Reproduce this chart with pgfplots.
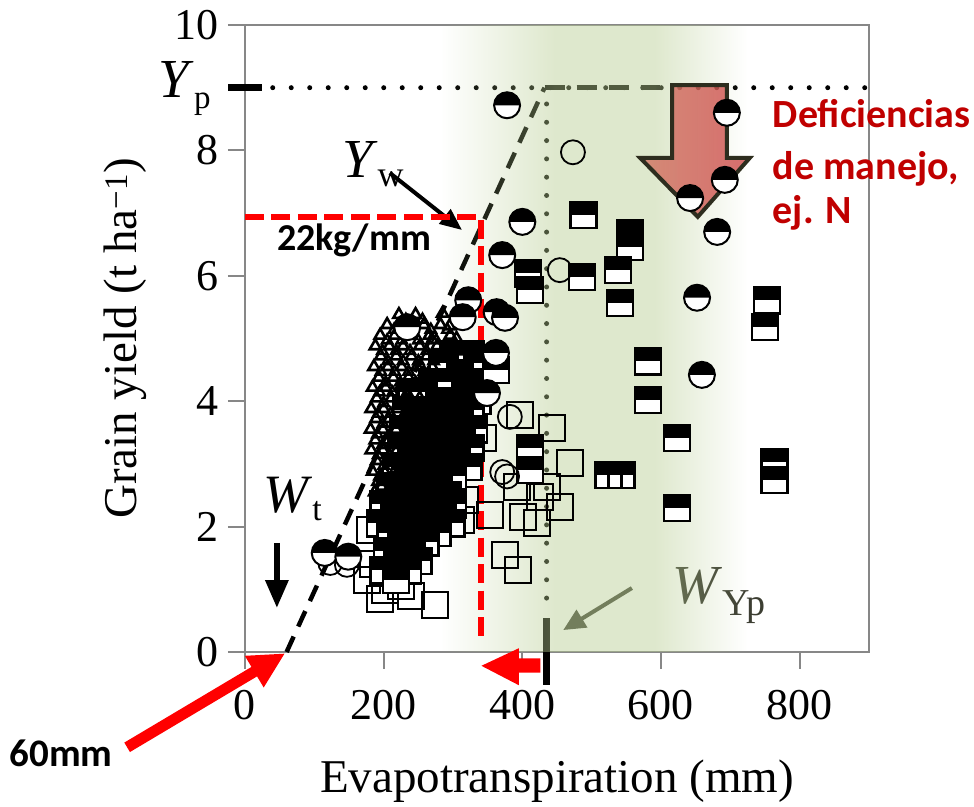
\documentclass[border=0pt]{standalone}
\usepackage{fontspec}
\setmainfont{Liberation Serif}
\newfontfamily\calib{Carlito}
\usepackage{pgfplots}
\pgfplotsset{compat=1.18}
\usetikzlibrary{arrows.meta,fadings}

\definecolor{axgray}{RGB}{135,135,135}
\definecolor{ovgreen}{RGB}{182,204,144}
\definecolor{darkred}{RGB}{192,0,0}
\definecolor{olivetxt}{RGB}{60,62,50}
\definecolor{arrowL}{RGB}{210,118,100}
\definecolor{arrowR}{RGB}{205,72,72}
\definecolor{arrowE}{RGB}{45,45,30}

\tikzfading[name=fin, left color=transparent!100, right color=transparent!0]
\tikzfading[name=fout, left color=transparent!0, right color=transparent!100]

\pgfdeclareplotmark{halfc}{%
  \pgfpathcircle{\pgfpointorigin}{\pgfplotmarksize}%
  \pgfsetfillcolor{white}\pgfusepathqfill
  \pgfpathmoveto{\pgfqpoint{\pgfplotmarksize}{0pt}}%
  \pgfpatharc{0}{180}{\pgfplotmarksize}%
  \pgfpathclose
  \pgfsetfillcolor{black}\pgfusepathqfill
  \pgfpathcircle{\pgfpointorigin}{\pgfplotmarksize}%
  \pgfusepathqstroke
}
\pgfdeclareplotmark{topsq}{%
  \pgfpathrectanglecorners{\pgfqpoint{-\pgfplotmarksize}{-\pgfplotmarksize}}{\pgfqpoint{\pgfplotmarksize}{\pgfplotmarksize}}%
  \pgfsetfillcolor{white}\pgfusepathqfill
  \pgfpathrectanglecorners{\pgfqpoint{-\pgfplotmarksize}{0.02\pgfplotmarksize}}{\pgfqpoint{\pgfplotmarksize}{\pgfplotmarksize}}%
  \pgfsetfillcolor{black}\pgfusepathqfill
  \pgfpathrectanglecorners{\pgfqpoint{-\pgfplotmarksize}{-\pgfplotmarksize}}{\pgfqpoint{\pgfplotmarksize}{\pgfplotmarksize}}%
  \pgfusepathqstroke
}
\pgfdeclareplotmark{tricell}{%
  \pgfpathrectanglecorners{\pgfqpoint{-1.5\pgfplotmarksize}{-\pgfplotmarksize}}{\pgfqpoint{1.5\pgfplotmarksize}{\pgfplotmarksize}}%
  \pgfsetfillcolor{white}\pgfusepathqfill
  \pgfpathrectanglecorners{\pgfqpoint{-1.5\pgfplotmarksize}{0.02\pgfplotmarksize}}{\pgfqpoint{1.5\pgfplotmarksize}{\pgfplotmarksize}}%
  \pgfsetfillcolor{black}\pgfusepathqfill
  \pgfpathrectanglecorners{\pgfqpoint{-1.5\pgfplotmarksize}{-\pgfplotmarksize}}{\pgfqpoint{1.5\pgfplotmarksize}{\pgfplotmarksize}}%
  \pgfpathmoveto{\pgfqpoint{-0.5\pgfplotmarksize}{-\pgfplotmarksize}}\pgfpathlineto{\pgfqpoint{-0.5\pgfplotmarksize}{0pt}}%
  \pgfpathmoveto{\pgfqpoint{0.5\pgfplotmarksize}{-\pgfplotmarksize}}\pgfpathlineto{\pgfqpoint{0.5\pgfplotmarksize}{0pt}}%
  \pgfusepathqstroke
}

\begin{document}
\begin{tikzpicture}[x=1pt,y=1pt]
\path[use as bounding box] (-245,-154) rectangle (729,652);
\begin{axis}[
  at={(0pt,0pt)}, anchor=south west,
  width=624pt, height=627pt, scale only axis,
  xmin=0, xmax=900, ymin=0, ymax=10,
  clip=false,
  axis line style={draw=axgray, line width=2.5pt},
  xtick={0,200,...,800}, ytick={0,2,...,10},
  tick align=outside, xtick pos=bottom, ytick pos=left,
  major tick length=17pt,
  tick style={draw=axgray, line width=2pt},
  tick label style={font=\fontsize{44}{44}\selectfont},
  xticklabel style={yshift=-18pt},
  yticklabel style={xshift=-6pt},
  /pgf/number format/assume math mode=true,
  xlabel={Evapotranspiration (mm)},
  ylabel={Grain yield (t ha\textsuperscript{\char"2212 1})},
  label style={font=\fontsize{47}{47}\selectfont},
  xlabel style={at={(axis description cs:0.5,0)}, anchor=base, yshift=-140pt},
  ylabel style={at={(axis description cs:0,0.5)}, anchor=center, yshift=120pt},
]
% ---- reference lines
\draw[black, line width=5pt, line cap=round, dash pattern=on 0pt off 18.5pt] (axis cs:40,9) -- (axis cs:900,9);
\draw[black, line width=5pt, line cap=round, dash pattern=on 0pt off 18.3pt] (axis cs:435,0.86) -- (axis cs:435,9);
\draw[black, line width=4.5pt, dash pattern=on 17pt off 11pt] (axis cs:60,0) -- (axis cs:432,9);
\draw[black, line width=5pt, dash pattern=on 20pt off 12pt] (axis cs:432,9) -- (axis cs:598,9);
\draw[black, line width=7pt] (axis cs:-24.5,9) -- (axis cs:24.5,9);
\draw[black, line width=7pt] (axis cs:435,0.54) -- (axis cs:435,-0.53);

% ---- open squares
\addplot[only marks, mark=square, mark size=13pt, mark options={draw=black, line width=2pt}] coordinates {
(397,3.78) (443,3.57) (469,3.01) (343,3.41) (392,2.63) (454,2.31) (401,2.15) (421,2.06)
(353,2.19) (375,1.55) (394,1.31) (436,2.63) (425,2.47) (274,0.75) (318,3.17) (318,2.42)
(312,2.10) (176,1.15) (202,0.99) (180,1.95) (195,0.85) (225,1.05) (240,0.9) (185,1.4)
};
% ---- cluster: top-filled squares (top to bottom)
\addplot[only marks, mark=topsq, mark size=13pt, mark options={draw=black, line width=2.5pt}] coordinates {
(300,4.75) (325,4.75)
(285,4.6) (335,4.6)
(310,4.45)
(270,4.3) (295,4.3) (330,4.3)
(240,4.15) (255,4.15) (318,4.15)
(280,4.0) (305,4.0) (335,4.0)
(232,3.85) (262,3.85) (292,3.85) (325,3.85)
(248,3.7) (275,3.7) (310,3.7)
(228,3.55) (262,3.55) (295,3.55) (330,3.55)
(245,3.4) (278,3.4) (312,3.4)
(225,3.25) (258,3.25) (292,3.25) (325,3.25)
(240,3.1) (272,3.1) (305,3.1)
(218,2.95) (252,2.95) (288,2.95) (322,2.95)
(235,2.8) (268,2.8) (300,2.8)
(210,2.65) (245,2.65) (280,2.65)
(225,2.5) (260,2.5) (292,2.5)
(200,2.35) (238,2.35) (272,2.35) (300,2.35)
(215,2.2) (250,2.2) (285,2.2)
(195,2.05) (230,2.05) (265,2.05) (298,2.05)
(210,1.9) (245,1.9) (278,1.9)
(225,1.75) (260,1.75)
(205,1.6) (240,1.6)
(220,1.45) (250,1.45)
(200,1.3) (235,1.3)
(218,1.15)
(362,4.5)
(488,6.97) (555,6.68) (555,6.46) (538,6.09) (408,6.04) (411,5.77) (486,5.98) (541,5.57)
(581,4.63) (581,4.02) (623,3.41) (623,2.30) (411,3.25) (411,2.90)
(753,5.61) (750,5.18) (764,3.03) (764,2.74)
};
\addplot[only marks, mark=tricell, mark size=13pt, mark options={draw=black, line width=2.5pt}] coordinates {(534,2.82)};
% ---- cluster: small open triangles (two overlapping layers)
\addplot[only marks, mark=triangle, mark size=6.5pt, mark options={draw=black, line width=2.6pt}] coordinates {
(222,5.38) (246,5.38)
(205,5.22) (230,5.22) (258,5.22) (282,5.22)
(195,5.05) (216,5.05) (240,5.05) (266,5.05) (296,5.05)
(188,4.88) (208,4.88) (228,4.88) (252,4.88) (277,4.88) (303,4.88)
(196,4.72) (218,4.72) (240,4.72) (262,4.72) (288,4.72)
(186,4.55) (206,4.55) (226,4.55) (248,4.55) (270,4.55)
(193,4.38) (214,4.38) (236,4.38) (256,4.38)
(184,4.22) (203,4.22) (224,4.22) (244,4.22)
(190,4.05) (211,4.05) (232,4.05) (252,4.05)
(182,3.88) (200,3.88) (220,3.88) (241,3.88)
(189,3.72) (208,3.72) (229,3.72)
(181,3.55) (199,3.55) (218,3.55) (238,3.55)
(188,3.38) (207,3.38) (227,3.38)
(182,3.22) (199,3.22) (219,3.22) (236,3.22)
(190,3.05) (209,3.05) (228,3.05)
(184,2.88) (201,2.88) (221,2.88)
(192,2.72) (212,2.72)
(187,2.55) (205,2.55)
(285,5.4) (305,5.0) (295,5.2) (315,4.8)
};
\addplot[only marks, mark=triangle, mark size=6pt, mark options={draw=black, line width=2.4pt}] coordinates {
(232,5.30) (256,5.30)
(215,5.14) (240,5.14) (268,5.14) (292,5.14)
(205,4.97) (226,4.97) (250,4.97) (276,4.97)
(198,4.80) (218,4.80) (238,4.80) (262,4.80) (287,4.80)
(206,4.64) (228,4.64) (250,4.64) (272,4.64)
(196,4.47) (216,4.47) (236,4.47) (258,4.47)
(203,4.30) (224,4.30) (246,4.30)
(194,4.14) (213,4.14) (234,4.14)
(200,3.97) (221,3.97) (242,3.97)
(192,3.80) (210,3.80) (230,3.80)
(199,3.64) (218,3.64) (239,3.64)
(191,3.47) (209,3.47) (228,3.47)
(198,3.30) (217,3.30)
(192,3.14) (209,3.14) (229,3.14)
(200,2.97) (219,2.97)
(194,2.80) (211,2.80)
(197,2.64)
};
% ---- open circles
\addplot[only marks, mark=o, mark size=12pt, mark options={draw=black, line width=1.8pt}] coordinates {
(473,7.97) (454,6.09) (382,3.75) (371,2.87) (378,2.80) (123,1.42) (147,1.39)
};
% ---- half-filled circles
\addplot[only marks, mark=halfc, mark size=13pt, mark options={draw=black, line width=2pt}] coordinates {
(378,8.72) (695,8.60) (692,7.53) (642,7.24) (681,6.70) (400,6.86) (371,6.33) (363,5.42)
(375,5.33) (652,5.65) (659,4.42) (349,4.13) (362,4.77) (322,5.61) (314,5.34) (234,5.18)
(115,1.58) (149,1.52)
};

% ---- W_Yp label and arrow (under the tint)
\draw[olivetxt, line width=4pt, -{Triangle[length=22pt,width=20pt]}] (axis cs:558,1.02) -- (axis cs:459,0.35);
\node[anchor=base west, inner sep=0pt, text=olivetxt, font=\fontsize{55}{55}\selectfont] at (axis cs:617,0.78)
  {\textit{W}\raisebox{-12pt}{\fontsize{38}{38}\selectfont Yp}};

% ---- green tint
\fill[ovgreen, fill opacity=0.45, path fading=fin] (axis cs:281,0) rectangle (axis cs:447,10);
\fill[ovgreen, fill opacity=0.45] (axis cs:447,0) rectangle (axis cs:591,10);
\fill[ovgreen, fill opacity=0.45, path fading=fout] (axis cs:591,0) rectangle (axis cs:725,10);

% ---- labels
\node[anchor=base west, inner sep=0pt, font=\fontsize{55}{55}\selectfont] at (axis cs:-125,8.85)
  {\textit{Y}\raisebox{-11pt}{\fontsize{33}{33}\selectfont p}};
\node[anchor=base west, inner sep=0pt, font=\fontsize{55}{55}\selectfont] at (axis cs:140,7.56)
  {\textit{Y}\raisebox{-9pt}{\fontsize{36}{36}\selectfont w}};
\draw[black, line width=4pt, -{Triangle[length=22pt,width=18pt]}] (axis cs:209,7.64) -- (axis cs:313,6.73);
\node[anchor=base west, inner sep=0pt, font=\fontsize{54}{54}\selectfont] at (axis cs:26,2.23)
  {\textit{W}\raisebox{-8pt}{\fontsize{34}{34}\selectfont t}};
\draw[black, line width=6pt, -{Triangle[length=28pt,width=22pt]}] (axis cs:46,1.74) -- (axis cs:46,0.70);

% ---- red annotations
\draw[red, line width=6pt, dash pattern=on 19pt off 7.5pt] (axis cs:0,6.94) -- (axis cs:340,6.94) -- (axis cs:340,0.22);
\fill[red] (axis cs:426,-0.10) -- (axis cs:395,-0.10) -- (axis cs:395,0.06) -- (axis cs:341,-0.22)
  -- (axis cs:395,-0.53) -- (axis cs:395,-0.33) -- (axis cs:426,-0.33) -- cycle;
\draw[red, line width=11pt, -{Triangle[length=36pt,width=34pt]}] (axis cs:-170,-1.52) -- (axis cs:58,-0.02);
\node[anchor=base west, inner sep=0pt, font=\calib\bfseries\fontsize{38}{38}\selectfont] at (axis cs:46,6.41) {22kg/mm};
\node[anchor=west, inner sep=0pt, font=\calib\bfseries\fontsize{39}{39}\selectfont] at (axis cs:-340,-1.61) {60mm};

\path[draw=arrowE, line width=4pt, line join=miter, left color=arrowL, right color=arrowR, fill opacity=0.8, draw opacity=1]
  (axis cs:616,9.04) -- (axis cs:695,9.04) -- (axis cs:695,7.88) -- (axis cs:728,7.88) -- (axis cs:653,6.94)
  -- (axis cs:570,7.88) -- (axis cs:616,7.88) -- cycle;
\node[anchor=base west, inner sep=0pt, text=darkred, font=\calib\bfseries\fontsize{40}{40}\selectfont] at (axis cs:761,8.36) {Deficiencias};
\node[anchor=base west, inner sep=0pt, text=darkred, font=\calib\bfseries\fontsize{40}{40}\selectfont] at (axis cs:761,7.53) {de manejo,};
\node[anchor=base west, inner sep=0pt, text=darkred, font=\calib\bfseries\fontsize{40}{40}\selectfont] at (axis cs:761,6.83) {ej. N};
\end{axis}
\end{tikzpicture}
\end{document}
